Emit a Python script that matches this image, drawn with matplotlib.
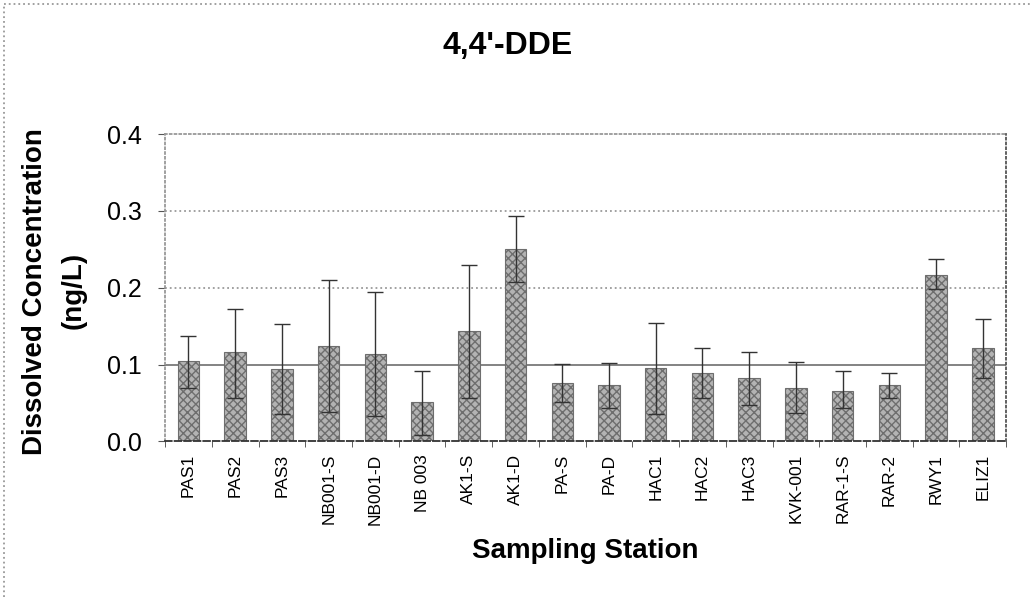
import matplotlib
matplotlib.use('Agg')
import matplotlib.pyplot as plt
from matplotlib.lines import Line2D
import numpy as np

plt.rcParams['font.family'] = ['Liberation Sans', 'DejaVu Sans']

stations = ['PAS1', 'PAS2', 'PAS3', 'NB001-S', 'NB001-D', 'NB 003', 'AK1-S', 'AK1-D',
            'PA-S', 'PA-D', 'HAC1', 'HAC2', 'HAC3', 'KVK-001', 'RAR-1-S', 'RAR-2',
            'RWY1', 'ELIZ1']
conc = [0.105, 0.116, 0.094, 0.124, 0.114, 0.052, 0.144, 0.251,
        0.076, 0.074, 0.096, 0.089, 0.082, 0.070, 0.066, 0.074,
        0.217, 0.122]
err_hi = [0.137, 0.172, 0.153, 0.210, 0.195, 0.092, 0.229, 0.294,
          0.101, 0.102, 0.154, 0.122, 0.117, 0.103, 0.092, 0.089,
          0.237, 0.159]
err_lo = [0.069, 0.057, 0.036, 0.038, 0.033, 0.009, 0.057, 0.208,
          0.051, 0.043, 0.036, 0.056, 0.047, 0.037, 0.043, 0.057,
          0.198, 0.082]
yticks = [0.0, 0.1, 0.2, 0.3, 0.4]

conc = np.array(conc)
yerr = [conc - np.array(err_lo), np.array(err_hi) - conc]
x = np.arange(len(stations))

fig = plt.figure(figsize=(10.32, 5.97), dpi=100)
ax = fig.add_axes([0.160, 0.2605, 0.815, 0.515])

# gridlines behind the bars
for g in yticks[1:-1]:
    if g == 0.1:
        ax.axhline(g, color='#7a7a7a', lw=1.3, ls='-', zorder=1)
    else:
        ax.axhline(g, color='#9a9a9a', lw=1.3, ls=':', zorder=1)

ax.bar(x, conc, width=0.46, color='#b3b3b3', edgecolor='#6e6e6e', hatch='xxxx',
       linewidth=0.8, zorder=2)
ax.errorbar(x, conc, yerr=yerr, fmt='none', ecolor='#333333', elinewidth=1.0,
            capsize=5.5, capthick=1.0, zorder=3)

ax.set_xlim(-0.5, len(stations) - 0.5)
ax.set_ylim(0, 0.4)
ax.set_yticks(yticks)
ax.set_yticklabels(['%.1f' % v for v in yticks], fontsize=18)
ax.set_xticks(x)
ax.set_xticklabels(stations, rotation=90, fontsize=12.5)
ax.set_xticks(np.arange(len(stations) + 1) - 0.5, minor=True)
ax.tick_params(axis='x', which='major', length=0, pad=9)
ax.tick_params(axis='x', which='minor', length=4, color='#444444')
ax.tick_params(axis='y', length=5, pad=12, color='#555555')
for s in ax.spines.values():
    s.set_color('#999999')
    s.set_linestyle(':')
    s.set_linewidth(1.3)
ax.spines['bottom'].set_color('#333333')
ax.spines['bottom'].set_linestyle('--')
ax.spines['right'].set_color('#555555')

# y axis title, two lines
fig.text(35 / 1032, 1 - 292 / 597, 'Dissolved Concentration', rotation=90,
         ha='center', va='center', fontsize=20, fontweight='bold')
fig.text(74 / 1032, 1 - 290 / 597, '(ng/L)', rotation=90,
         ha='center', va='center', fontsize=20, fontweight='bold')

ax.set_xlabel('Sampling Station', fontsize=20, fontweight='bold')
ax.xaxis.set_label_coords(0.5, -0.315)
fig.text(0.492, 0.923, "4,4'-DDE", ha='center', va='center', fontsize=23, fontweight='bold')

# outer chart frame (only top and left edges show in the crop)
fig.add_artist(Line2D([0.004, 1.0], [0.993, 0.993], transform=fig.transFigure,
                      color='#999999', ls=':', lw=1.3))
fig.add_artist(Line2D([0.004, 0.004], [0.0, 0.993], transform=fig.transFigure,
                      color='#999999', ls=':', lw=1.3))

fig.savefig('out.png', dpi=100)
